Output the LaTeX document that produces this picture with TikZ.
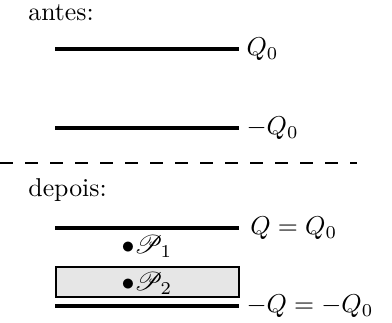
\documentclass[tikz,border=0pt]{standalone}
\usepackage{amsmath}
\usepackage{mathrsfs}
\usetikzlibrary{positioning}
\definecolor{slabFill}{HTML}{E6E6E6}
\tikzset{
  plate/.style={line width=1.6pt, black},
  slab/.style={rectangle, draw=black, fill=slabFill, line width=0.8pt},
  sepline/.style={dashed, dash pattern=on 5pt off 4.7pt, line width=0.8pt},
  charge/.style={right, inner sep=2pt},
  caption/.style={anchor=west, inner sep=0pt},
}
\begin{document}
\begin{tikzpicture}
  \useasboundingbox (0,0) rectangle (5.34,4.387);

  % before
  \node[caption] (antes) at (0.38,4.21) {antes:};
  \coordinate (a1) at (0.75,3.72);
  \coordinate (a2) at (3.26,3.72);
  \coordinate (b1) at (0.75,2.64);
  \coordinate (b2) at (3.26,2.64);
  \draw[plate] (a1) -- (a2) node[charge] (qa) {$Q_0$};
  \draw[plate] (b1) -- (b2) node[charge] (qb) {$-Q_0$};

  % separator
  \coordinate (s1) at (0,2.17);
  \coordinate (s2) at (4.86,2.17);
  \draw[sepline] (s1) -- (s2);

  % after
  \node[caption] (depois) at (0.38,1.80) {depois:};
  \coordinate (c1) at (0.75,1.28);
  \coordinate (c2) at (3.26,1.28);
  \coordinate (d1) at (0.75,0.218);
  \coordinate (d2) at (3.26,0.218);
  \draw[plate] (c1) -- (c2) node[charge, xshift=1.5pt] (qc) {$Q=Q_0$};
  \draw[plate] (d1) -- (d2) node[charge] (qd) {$-Q=-Q_0$};
  \node[slab, minimum width=2.49cm, minimum height=0.41cm] (box) at (2.005,0.545) {};

  \node (p1) at (2.0,1.03) {$\bullet\mathscr{P}_1$};
  \node (p2) at (2.0,0.53) {$\bullet\mathscr{P}_2$};
\end{tikzpicture}
\end{document}
